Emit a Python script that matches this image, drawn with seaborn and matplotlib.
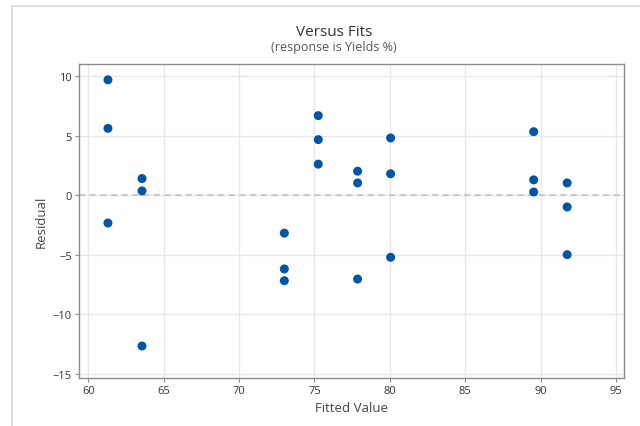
import matplotlib
matplotlib.use("Agg")
import matplotlib.pyplot as plt
from matplotlib.lines import Line2D
import seaborn as sns
import pandas as pd

# Fitted values and residuals from the yield model
fitted = [61.3, 61.3, 61.3,
          63.56, 63.56, 63.56,
          73.0, 73.0, 73.0,
          75.25, 75.25, 75.25,
          77.86, 77.86, 77.86,
          80.05, 80.05, 80.05,
          89.54, 89.54, 89.54,
          91.76, 91.76, 91.76]
residual = [9.71, 5.63, -2.33,
            1.41, 0.37, -12.67,
            -3.18, -6.19, -7.18,
            6.70, 4.68, 2.62,
            2.03, 1.04, -7.04,
            4.82, 1.81, -5.21,
            5.35, 1.30, 0.28,
            1.04, -0.98, -4.99]

x_ticks = [60, 65, 70, 75, 80, 85, 90, 95]
y_ticks = [-15, -10, -5, 0, 5, 10]

df = pd.DataFrame({"Fitted Value": fitted, "Residual": residual})

sns.set_theme(style="white")
plt.rcParams["font.family"] = ["Open Sans", "DejaVu Sans"]

fig = plt.figure(figsize=(6.4, 4.27), dpi=100)
ax = fig.add_axes([79 / 640, 1 - 379 / 427, (624 - 79) / 640, (379 - 65) / 427])

# panel outline behind the chart
fig.add_artist(Line2D([12 / 640, 12 / 640], [0, 1 - 7 / 427], color="#d9d9d9", lw=1.2,
                      transform=fig.transFigure))
fig.add_artist(Line2D([12 / 640, 1], [1 - 7 / 427, 1 - 7 / 427], color="#d9d9d9", lw=1.2,
                      transform=fig.transFigure))

ax.set_xlim(59.38, 95.53)
ax.set_ylim(-15.36, 11.04)
ax.set_xticks(x_ticks)
ax.set_yticks(y_ticks)
ax.grid(True, color="#e8e8e8", lw=1.0)
ax.set_axisbelow(True)

ax.axhline(0, color="#bdbdbd", lw=1.1, ls=(0, (4, 3)), zorder=1)

sns.scatterplot(data=df, x="Fitted Value", y="Residual", ax=ax,
                color="#0055a5", s=42, edgecolor="none", zorder=3)

for sp in ax.spines.values():
    sp.set_color("#8c8c8c")
    sp.set_linewidth(1.0)

ax.tick_params(axis="both", which="major", direction="out", length=3, width=0.8,
               color="#8c8c8c", labelsize=8, labelcolor="#333333", pad=2,
               bottom=True, left=True)

ax.set_xlabel("Fitted Value", fontsize=9.5, color="#444444", labelpad=4)
ax.set_ylabel("Residual", fontsize=9.5, color="#444444", labelpad=4)

fig.text(334 / 640, 1 - 33 / 427, "Versus Fits", ha="center", va="center",
         fontsize=11, color="#333333")
fig.text(334 / 640, 1 - 48 / 427, "(response is Yields %)", ha="center", va="center",
         fontsize=9, color="#555555")

fig.savefig("out.png", dpi=100, facecolor="white")
